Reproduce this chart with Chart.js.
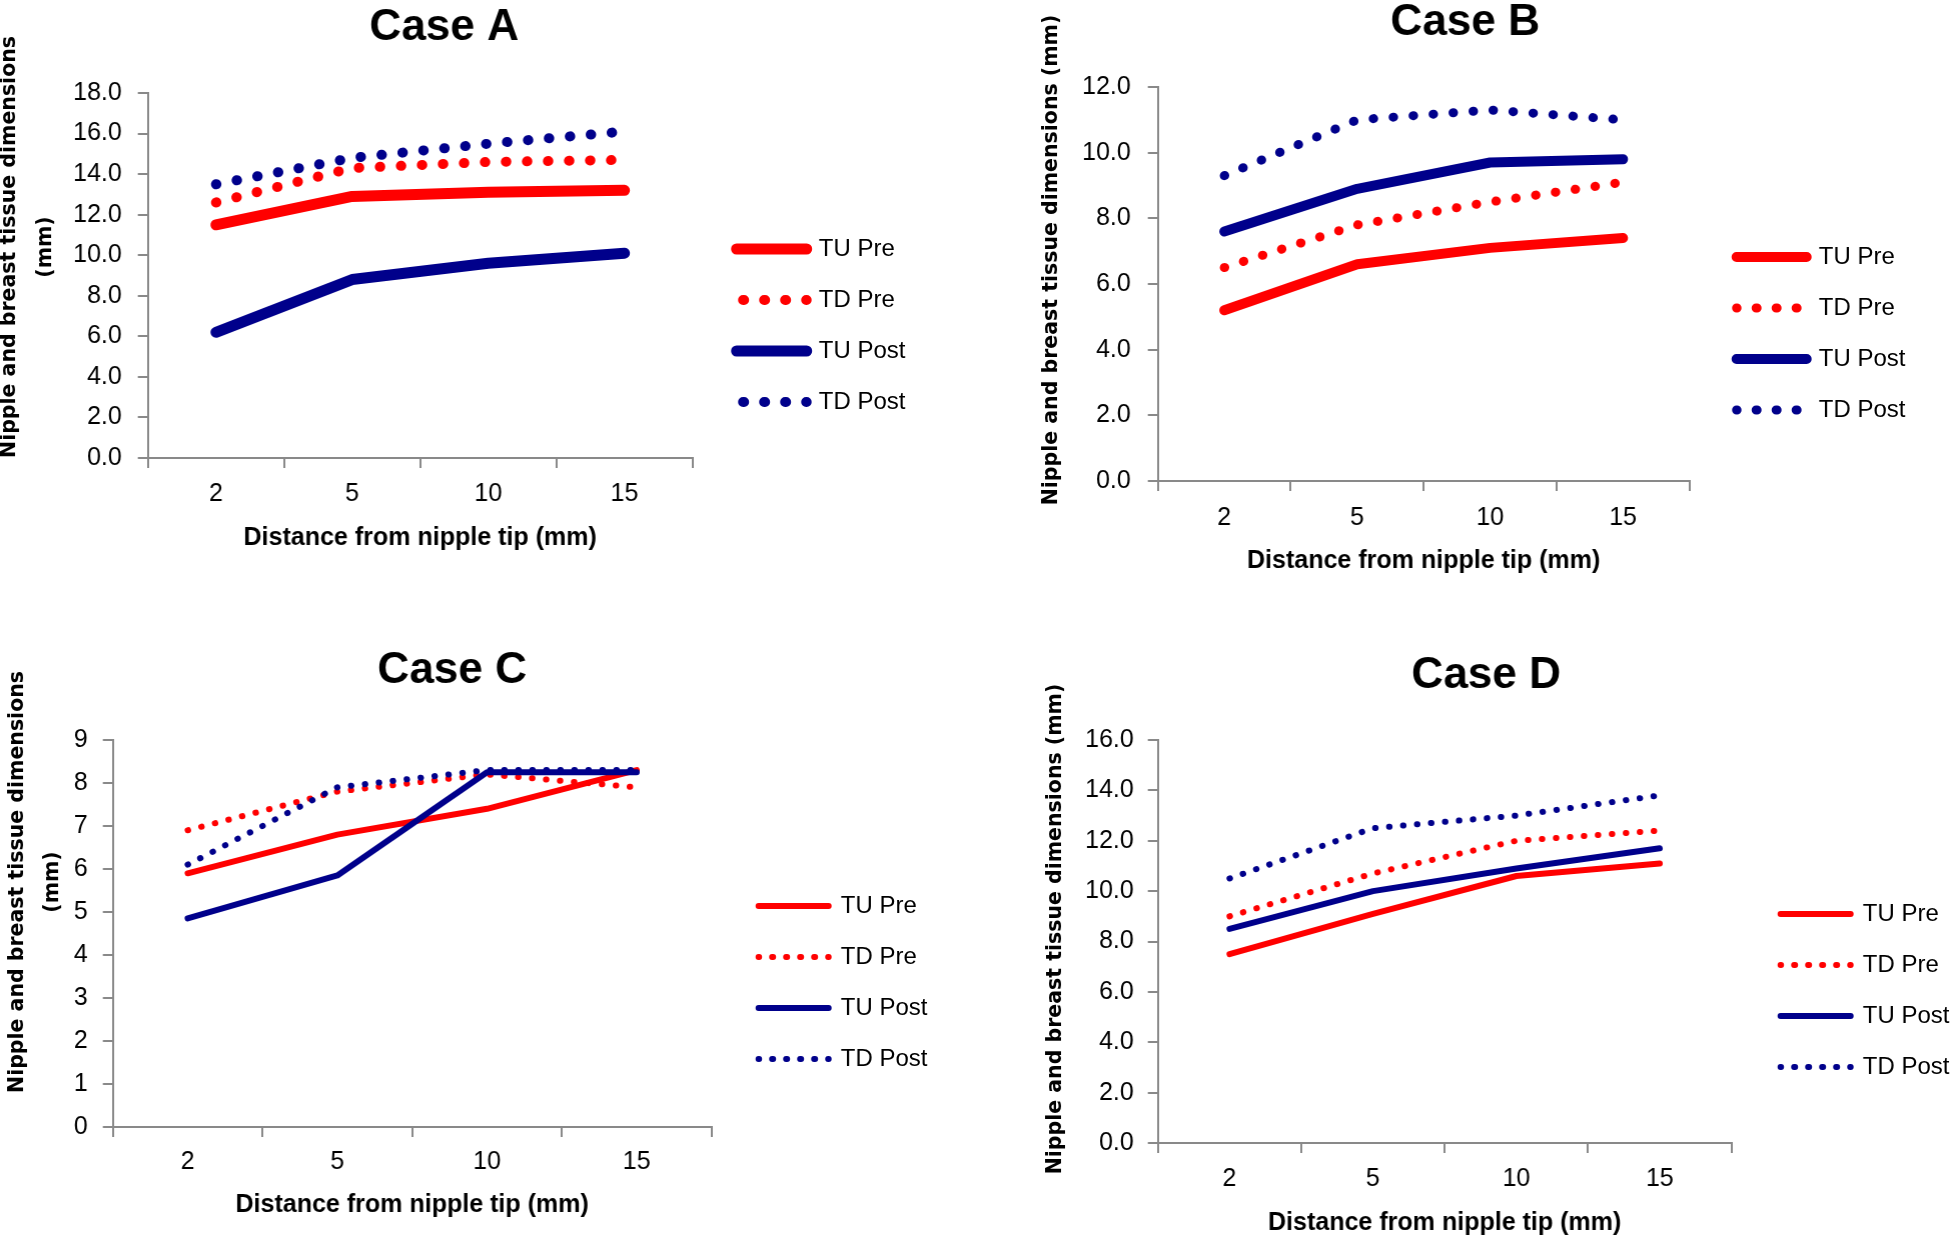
<!DOCTYPE html>
<html>
<head>
<meta charset="utf-8">
<title>Nipple and breast tissue dimensions</title>
<script src="https://cdn.jsdelivr.net/npm/chart.js@4/dist/chart.umd.min.js"></script>
<style>
  body { margin: 0; background: #fff; width: 1952px; height: 1236px; position: relative; overflow: hidden; }
  .plot { position: absolute; }
</style>
</head>
<body>
<div class="plot"><canvas id="caseA"></canvas></div>
<div class="plot"><canvas id="caseB"></canvas></div>
<div class="plot"><canvas id="caseC"></canvas></div>
<div class="plot"><canvas id="caseD"></canvas></div>
<script>
// categories and series names
const distances = ['2', '5', '10', '15'];
const seriesNames = ['TU Pre', 'TD Pre', 'TU Post', 'TD Post'];

// Case A values (mm)
const caseA_TUPre  = [11.5, 12.9, 13.1, 13.2];
const caseA_TDPre  = [12.6, 14.3, 14.6, 14.7];
const caseA_TUPost = [6.2, 8.8, 9.6, 10.1];
const caseA_TDPost = [13.5, 14.8, 15.5, 16.1];

// Case B
const caseB_TUPre  = [5.2, 6.6, 7.1, 7.4];
const caseB_TDPre  = [6.5, 7.8, 8.5, 9.1];
const caseB_TUPost = [7.6, 8.9, 9.7, 9.8];
const caseB_TDPost = [9.3, 11.0, 11.3, 11.0];

// Case C
const caseC_TUPre  = [5.9, 6.8, 7.4, 8.3];
const caseC_TDPre  = [6.9, 7.8, 8.2, 7.9];
const caseC_TUPost = [4.85, 5.85, 8.25, 8.25];
const caseC_TDPost = [6.1, 7.9, 8.3, 8.3];

// Case D
const caseD_TUPre  = [7.5, 9.1, 10.6, 11.1];
const caseD_TDPre  = [9.0, 10.7, 12.0, 12.4];
const caseD_TUPost = [8.5, 10.0, 10.9, 11.7];
const caseD_TDPost = [10.5, 12.5, 13.0, 13.8];

// y axis [min, max, step]
const caseA_yTicks = [0, 18, 2];
const caseB_yTicks = [0, 12, 2];
const caseC_yTicks = [0, 9, 1];
const caseD_yTicks = [0, 16, 2];

const yTitleText = 'Nipple and breast tissue dimensions';
const xTitleText = 'Distance from nipple tip (mm)';

const RED = '#ff0000', NAVY = '#00008b', AXIS = '#898989';
const FONT = "'Liberation Sans', Arial, sans-serif";
const YFONT = "'DejaVu Sans', Verdana, sans-serif";
const LEG_FS = 24, LEG_PAD = 27, LEG_W = 70;
const TICK_FS = 25, XT_FS = 25, T_FS = 44, YT_FS = 20.5;

Chart.defaults.color = '#000';

// width of the widest legend text, so the legend box size is known up front
const measureCtx = document.createElement('canvas').getContext('2d');
measureCtx.font = LEG_FS + 'px ' + FONT;
const legendTextW = Math.max(...seriesNames.map(s => measureCtx.measureText(s).width));
const legendBoxW = LEG_PAD + LEG_W + LEG_FS / 2 + legendTextW + 10;

// rotated y-axis title, drawn where the original puts it
const yTitlePlugin = {
  id: 'yTitle',
  afterDraw(chart, args, opts) {
    const ctx = chart.ctx;
    ctx.save();
    ctx.font = 'bold ' + YT_FS + 'px ' + YFONT;
    ctx.fillStyle = '#000';
    ctx.textAlign = 'center';
    ctx.textBaseline = 'middle';
    opts.lines.forEach((line, i) => {
      ctx.save();
      ctx.translate(opts.x + i * opts.spacing, opts.y);
      ctx.rotate(-Math.PI / 2);
      ctx.fillText(line, 0, 0);
      ctx.restore();
    });
    ctx.restore();
  }
};

function makeCase(id, geo, titleText, yLines, yTicks, decimals, values, solidW, dotW, dotPeriod) {
  const canvas = document.getElementById(id);
  const wrap = canvas.parentNode;
  const legendLeft = geo.legendX - LEG_PAD;
  const right = legendLeft + legendBoxW + 4;
  const left = 2 * geo.titleX - right;
  const height = geo.xTitleY + XT_FS * 0.6 - geo.top;
  wrap.style.left = left + 'px';
  wrap.style.top = geo.top + 'px';
  wrap.style.width = (right - left) + 'px';
  wrap.style.height = height + 'px';

  const titlePadTop = geo.titleY - geo.top - T_FS / 2;
  // the legend sample is a flat box stroked out and back; phase the dots so both passes coincide
  const dotPhase = ((2 * LEG_W) % dotPeriod) / 2;
  const legendDashOffset = (dotPeriod - dotPhase) % dotPeriod;

  const datasets = values.map((data, i) => ({
    label: seriesNames[i],
    data: data,
    borderColor: i < 2 ? RED : NAVY,
    backgroundColor: i < 2 ? RED : NAVY,
    borderWidth: i % 2 ? dotW : solidW,
    borderDash: i % 2 ? [0.5, dotPeriod - 0.5] : [],
    borderCapStyle: 'round',
    borderJoinStyle: 'round',
    pointRadius: 0,
    pointHoverRadius: 0,
    tension: 0,
    fill: false,
    order: values.length - i
  }));

  return new Chart(canvas, {
    type: 'line',
    data: { labels: distances, datasets: datasets },
    plugins: [yTitlePlugin],
    options: {
      responsive: true,
      maintainAspectRatio: false,
      animation: false,
      events: [],
      layout: {
        padding: { left: 0, top: 0, bottom: 0, right: 4 }
      },
      plugins: {
        tooltip: { enabled: false },
        title: {
          display: true,
          text: titleText,
          color: '#000',
          font: { family: FONT, size: T_FS, weight: 'bold', lineHeight: 1 },
          padding: { top: titlePadTop, bottom: geo.plot.t - geo.top - titlePadTop - T_FS }
        },
        legend: {
          position: 'right',
          align: 'start',
          title: {
            display: true,
            text: ' ',
            font: { size: 2, lineHeight: 1 },
            padding: { top: geo.legendY - geo.top - LEG_PAD - LEG_FS / 2 - 2, bottom: 0 }
          },
          labels: {
            usePointStyle: false,
            boxWidth: LEG_W,
            boxHeight: 0,
            padding: LEG_PAD,
            color: '#000',
            font: { family: FONT, size: LEG_FS },
            generateLabels: chart => chart.data.datasets.map((ds, i) => ({
              text: ds.label,
              fillStyle: ds.borderColor,
              strokeStyle: ds.borderColor,
              fontColor: '#000',
              lineWidth: ds.borderWidth,
              lineDash: ds.borderDash,
              lineDashOffset: ds.borderDash.length ? legendDashOffset : 0,
              lineCap: 'round',
              lineJoin: 'round',
              hidden: false,
              datasetIndex: i
            }))
          }
        },
        yTitle: {
          lines: yLines,
          x: geo.yTitleX - left,
          y: geo.yTitleY - geo.top,
          spacing: geo.yTitleGap
        }
      },
      scales: {
        x: {
          type: 'category',
          offset: true,
          grid: { offset: true, drawOnChartArea: false, tickLength: 10, color: AXIS, lineWidth: 2 },
          border: { color: AXIS, width: 2 },
          ticks: {
            color: '#000',
            font: { family: FONT, size: TICK_FS },
            padding: geo.xLabelY - geo.plot.b - 10 - TICK_FS * 0.6,
            maxRotation: 0
          },
          title: {
            display: true,
            text: xTitleText,
            color: '#000',
            font: { family: FONT, size: XT_FS, weight: 'bold', lineHeight: 1.2 },
            padding: 0
          },
          afterFit: s => { s.height = geo.top + height - geo.plot.b; }
        },
        y: {
          min: yTicks[0],
          max: yTicks[1],
          grid: { drawOnChartArea: false, tickLength: 10, color: AXIS, lineWidth: 2 },
          border: { color: AXIS, width: 2 },
          ticks: {
            stepSize: yTicks[2],
            color: '#000',
            font: { family: FONT, size: TICK_FS },
            padding: geo.yTickPad,
            callback: v => Number(v).toFixed(decimals)
          },
          afterFit: s => { s.width = geo.plot.l - left; }
        },
        // hidden spacer between the plot and the legend
        gap: {
          type: 'linear',
          position: 'right',
          display: false,
          afterFit: s => { s.width = legendLeft - geo.plot.r; }
        }
      }
    }
  });
}

makeCase('caseA',
  { titleX: 446, top: 0, plot: { l: 148, r: 692, t: 93, b: 458 },
    titleY: 28, xLabelY: 494, xTitleY: 538, yTitleX: 10, yTitleY: 247, yTitleGap: 36,
    legendX: 736, legendY: 249, yTickPad: 16 },
  'Case A', [yTitleText, '(mm)'], caseA_yTicks, 1,
  [caseA_TUPre, caseA_TDPre, caseA_TUPost, caseA_TDPost], 11, 10, 21);

makeCase('caseB',
  { titleX: 1467, top: 0, plot: { l: 1158, r: 1689, t: 87, b: 481 },
    titleY: 23, xLabelY: 518, xTitleY: 561, yTitleX: 1052, yTitleY: 260, yTitleGap: 0,
    legendX: 1736, legendY: 257, yTickPad: 17 },
  'Case B', [yTitleText + ' (mm)'], caseB_yTicks, 1,
  [caseB_TUPre, caseB_TDPre, caseB_TUPost, caseB_TDPost], 10, 9, 20);

makeCase('caseC',
  { titleX: 454, top: 620, plot: { l: 113, r: 711, t: 740, b: 1127 },
    titleY: 671, xLabelY: 1162, xTitleY: 1205, yTitleX: 18, yTitleY: 882, yTitleGap: 35,
    legendX: 758, legendY: 906, yTickPad: 15 },
  'Case C', [yTitleText, '(mm)'], caseC_yTicks, 0,
  [caseC_TUPre, caseC_TDPre, caseC_TUPost, caseC_TDPost], 6, 6, 14);

makeCase('caseD',
  { titleX: 1488, top: 620, plot: { l: 1158, r: 1731, t: 740, b: 1143 },
    titleY: 676, xLabelY: 1179, xTitleY: 1223, yTitleX: 1056, yTitleY: 929, yTitleGap: 0,
    legendX: 1780, legendY: 914, yTickPad: 14 },
  'Case D', [yTitleText + ' (mm)'], caseD_yTicks, 1,
  [caseD_TUPre, caseD_TDPre, caseD_TUPost, caseD_TDPost], 6, 6, 14);
</script>
</body>
</html>
